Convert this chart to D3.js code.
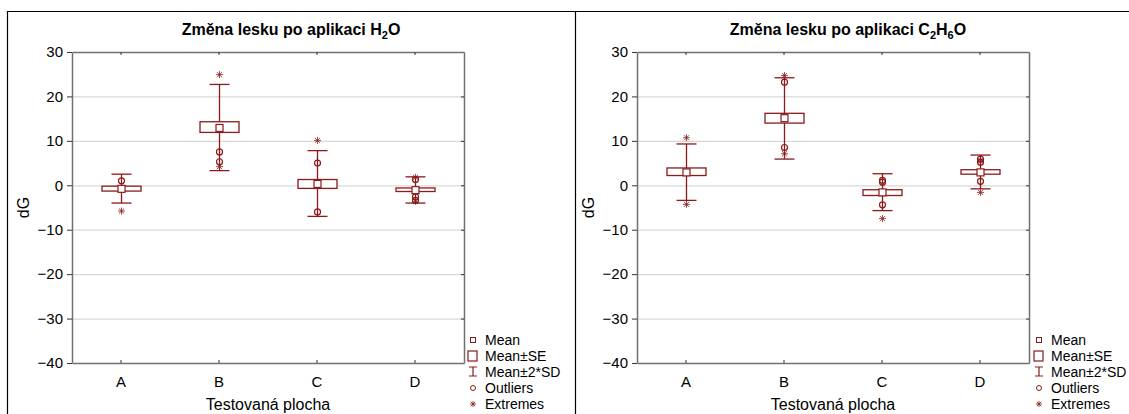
<!DOCTYPE html>
<html>
<head>
<meta charset="utf-8">
<script src="https://cdn.jsdelivr.net/npm/d3@7"></script>
<style>
  body { margin: 0; background: #fff; }
  svg { display: block; font-family: "Liberation Sans", Arial, sans-serif; }
</style>
</head>
<body>
<div id="chart"></div>
<script>
const categories = ["A", "B", "C", "D"];
const yTicks = [30, 20, 10, 0, -10, -20, -30, -40];
const legendLabels = ["Mean", "Mean±SE", "Mean±2*SD", "Outliers", "Extremes"];

// H2O
const h2oMean = [-0.8, 12.9, 0.3, -1.1];
const h2oSE = [[-1.3, -0.2], [11.9, 14.3], [-0.7, 1.3], [-1.4, -0.6]];
const h2oSD = [[-4.0, 2.5], [3.3, 22.7], [-7.0, 7.8], [-4.0, 1.9]];
const h2oOutliers = [[1.0], [7.5, 5.3], [5.0, -6.0], [1.3, -2.6, -3.4]];
const h2oExtremes = [[-5.8], [24.9, 4.2], [10.1], [1.8, -3.6]];

// C2H6O
const ethMean = [2.9, 15.1, -1.6, 2.9];
const ethSE = [[2.2, 3.9], [14.0, 16.2], [-2.3, -1.0], [2.5, 3.5]];
const ethSD = [[-3.4, 9.3], [5.9, 24.2], [-5.7, 2.6], [-0.8, 6.8]];
const ethOutliers = [[], [23.2, 8.5], [1.1, 0.7, -4.4], [5.9, 5.2, 0.9]];
const ethExtremes = [[10.7, -4.3], [24.7, 7.1], [-7.5], [5.5, -1.6]];

const W = 1129, H = 414;
const red = "#8b1a1a";
const svg = d3.select("#chart").append("svg").attr("width", W).attr("height", H);

// panel frames
svg.append("path")
  .attr("d", "M7.5,414 V11.5 H1129 M575.5,11.5 V414")
  .attr("fill", "none").attr("stroke", "#000").attr("stroke-width", 1.2);

function star(g, cx, cy, r) {
  const d = r * 0.72;
  g.append("path")
    .attr("d", `M${cx - r},${cy}H${cx + r}M${cx},${cy - r}V${cy + r}` +
      `M${cx - d},${cy - d}L${cx + d},${cy + d}M${cx - d},${cy + d}L${cx + d},${cy - d}`)
    .attr("stroke", red).attr("stroke-width", 1).attr("fill", "none").attr("opacity", 0.8);
}

function panel(opt) {
  const left = opt.left, top = 52, width = 392, height = 311;
  const g = svg.append("g");
  const x = d3.scaleBand().domain(categories).range([left, left + width]).padding(0);
  const y = d3.scaleLinear().domain([-40, 30]).range([top + height, top]);

  // grid
  g.append("g").selectAll("line").data(yTicks.filter(t => t > -40 && t < 30)).join("line")
    .attr("x1", left).attr("x2", left + width)
    .attr("y1", d => y(d) + 0.5).attr("y2", d => y(d) + 0.5)
    .attr("stroke", "#d8d8d8").attr("stroke-width", 1.2);

  // axes
  const axStyle = sel => {
    sel.select(".domain").attr("stroke", "#707070").attr("stroke-width", 1.5);
    sel.selectAll(".tick line").attr("stroke", "#333");
    sel.selectAll("text").attr("fill", "#000").style("font-size", "15px");
  };
  g.append("g").attr("transform", `translate(${left},0)`)
    .call(d3.axisLeft(y).tickValues(yTicks).tickSize(5).tickSizeOuter(0).tickPadding(4))
    .call(axStyle);
  g.append("g").attr("transform", `translate(${left + width},0)`)
    .call(d3.axisLeft(y).tickValues(yTicks).tickSize(3).tickSizeOuter(0).tickFormat(""))
    .call(sel => sel.select(".domain").attr("stroke", "#707070").attr("stroke-width", 1.5))
    .call(sel => sel.selectAll(".tick line").attr("stroke", "#333"));
  g.append("g").attr("transform", `translate(0,${top + height})`)
    .call(d3.axisTop(x).tickSize(3).tickSizeOuter(0).tickFormat(""))
    .call(sel => sel.select(".domain").attr("stroke", "#707070").attr("stroke-width", 1.5))
    .call(sel => sel.selectAll(".tick line").attr("stroke", "#333"));
  g.append("g").attr("transform", `translate(0,${top + height})`)
    .call(d3.axisBottom(x).tickSize(0).tickPadding(13))
    .call(sel => sel.select(".domain").remove())
    .call(sel => sel.selectAll("text").attr("fill", "#000").style("font-size", "15px"));
  g.append("g").attr("transform", `translate(0,${top})`)
    .call(d3.axisBottom(x).tickSize(3).tickSizeOuter(0).tickFormat(""))
    .call(sel => sel.select(".domain").attr("stroke", "#707070").attr("stroke-width", 1.5))
    .call(sel => sel.selectAll(".tick line").attr("stroke", "#333"));

  // title
  const t = g.append("text").attr("x", opt.titleX).attr("y", 35)
    .attr("text-anchor", "middle").style("font-size", "16px").style("font-weight", "bold");
  opt.title.forEach(p => {
    const ts = t.append("tspan").text(p[0]);
    if (p[1]) ts.style("font-size", "11px").attr("dy", 4);
    else if (p[2]) ts.attr("dy", -4);
  });

  g.append("text").attr("x", left + width / 2).attr("y", 410)
    .attr("text-anchor", "middle").style("font-size", "16px").text("Testovaná plocha");
  g.append("text").attr("transform", `translate(${left - 43},${top + height / 2}) rotate(-90)`)
    .attr("text-anchor", "middle").style("font-size", "16px").text("dG");

  // boxes
  const bw = 39, cap = 10;
  categories.forEach((c, i) => {
    const cx = Math.round(x(c) + x.bandwidth() / 2) + 0.5;
    const gg = g.append("g");
    gg.append("line").attr("x1", cx).attr("x2", cx)
      .attr("y1", y(opt.sd[i][0])).attr("y2", y(opt.sd[i][1]))
      .attr("stroke", red).attr("stroke-width", 1.3);
    opt.sd[i].forEach(v => gg.append("line").attr("x1", cx - cap).attr("x2", cx + cap)
      .attr("y1", y(v)).attr("y2", y(v)).attr("stroke", red).attr("stroke-width", 1.3));
    gg.append("rect").attr("x", cx - bw / 2).attr("width", bw)
      .attr("y", y(opt.se[i][1])).attr("height", y(opt.se[i][0]) - y(opt.se[i][1]))
      .attr("fill", "#fff").attr("stroke", red).attr("stroke-width", 1.3);
    gg.append("rect").attr("x", cx - 3.5).attr("width", 7)
      .attr("y", y(opt.mean[i]) - 3.5).attr("height", 7)
      .attr("fill", "#fff").attr("stroke", red).attr("stroke-width", 1.2);
    opt.out[i].forEach(v => gg.append("circle").attr("cx", cx).attr("cy", y(v)).attr("r", 3)
      .attr("fill", "none").attr("stroke", red).attr("stroke-width", 1.2));
    opt.ext[i].forEach(v => star(gg, cx, y(v), 3.5));
  });

  // legend
  const lx = opt.legendX;
  const lg = g.append("g");
  const rows = [340, 356, 372, 388, 404];
  lg.append("rect").attr("x", lx - 2.5).attr("y", rows[0] - 2.5).attr("width", 5).attr("height", 5)
    .attr("fill", "none").attr("stroke", red);
  lg.append("rect").attr("x", lx - 5).attr("y", rows[1] - 5).attr("width", 9).attr("height", 10)
    .attr("fill", "none").attr("stroke", red).attr("stroke-width", 1.2);
  lg.append("path").attr("d", `M${lx - 4},${rows[2] - 5}H${lx + 4}M${lx},${rows[2] - 5}V${rows[2] + 4}M${lx - 4},${rows[2] + 4}H${lx + 4}`)
    .attr("stroke", red).attr("fill", "none").attr("stroke-width", 1.2);
  lg.append("circle").attr("cx", lx).attr("cy", rows[3]).attr("r", 2.5)
    .attr("fill", "none").attr("stroke", red);
  star(lg, lx, rows[4], 3);
  legendLabels.forEach((l, i) => lg.append("text").attr("x", lx + 12).attr("y", rows[i] + 5)
    .style("font-size", "14px").text(l));
}

panel({ left: 72, titleX: 291, legendX: 473, title: [["Změna lesku po aplikaci H"], ["2", true], ["O", false, true]],
  mean: h2oMean, se: h2oSE, sd: h2oSD, out: h2oOutliers, ext: h2oExtremes });
panel({ left: 637, titleX: 848, legendX: 1039, title: [["Změna lesku po aplikaci C"], ["2", true], ["H", false, true], ["6", true], ["O", false, true]],
  mean: ethMean, se: ethSE, sd: ethSD, out: ethOutliers, ext: ethExtremes });
</script>
</body>
</html>
